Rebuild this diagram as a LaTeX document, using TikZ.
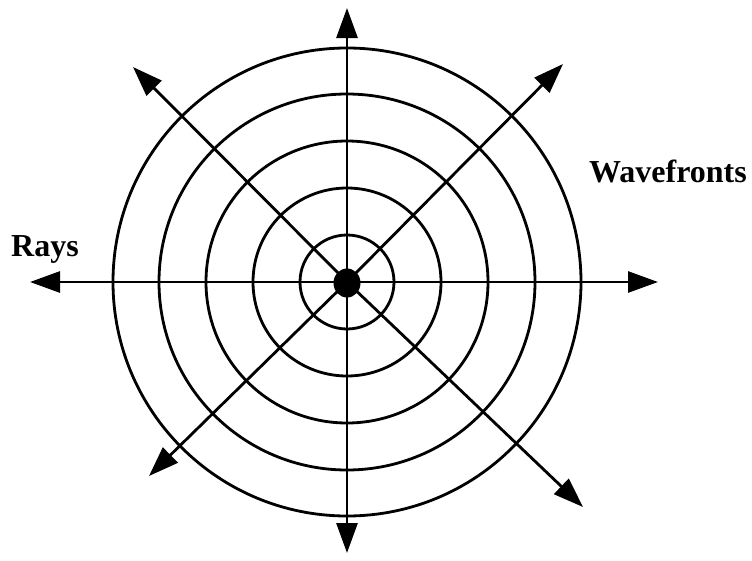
\documentclass[tikz,border=0pt]{standalone}
\usepackage{fontspec}
\setmainfont{Liberation Serif}
\usetikzlibrary{arrows.meta,shapes.geometric}
\begin{document}
\begin{tikzpicture}[x=1pt,y=-1pt,
  ray/.style={line width=2.8pt,-{Triangle[length=30pt,width=21pt]}},
  front/.style={line width=2.8pt},
  lbl/.style={font=\bfseries\fontsize{32}{32}\selectfont,inner sep=0pt,anchor=base west}]
\useasboundingbox (0,0) rectangle (752,560);
\coordinate (c) at (347,282);
\foreach \r in {47,94,141,188,234}{\draw[front] (c) circle[radius=\r];}
\coordinate (tN) at (347,8);
\coordinate (tS) at (347,553);
\coordinate (tW) at (30,282);
\coordinate (tE) at (658,282);
\coordinate (tNW) at (133,67);
\coordinate (tNE) at (563,64);
\coordinate (tSE) at (583,507);
\coordinate (tSW) at (149,476);
\foreach \t in {tN,tS,tW,tE,tNW,tNE,tSE,tSW}{\draw[ray] (c) -- (\t);}
\node[fill=black,ellipse,minimum width=27pt,minimum height=29pt,inner sep=0pt] (src) at (347,283) {};
\node[lbl] (rays) at (11,256) {Rays};
\node[lbl] (wf) at (589,182) {Wavefronts};
\end{tikzpicture}
\end{document}
